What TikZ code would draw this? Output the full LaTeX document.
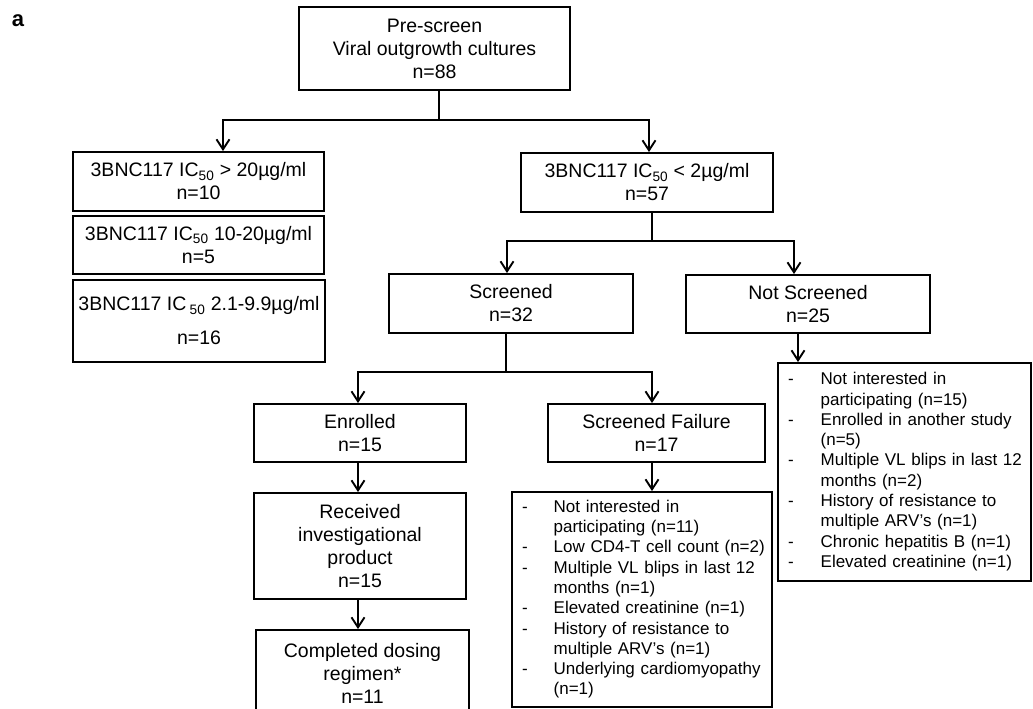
\documentclass[tikz,border=0pt]{standalone}
\usepackage{fontspec}
\setmainfont{Liberation Sans}
\usetikzlibrary{arrows.meta}
\begin{document}
\begin{tikzpicture}[x=1pt,y=-1pt,
  box/.style={draw, line width=1.9pt, inner sep=0pt, align=center,
    font=\fontsize{19.5}{23}\selectfont},
  listbox/.style={draw, line width=1.9pt, inner sep=0pt, align=left,
    font=\fontsize{17}{20.3}\selectfont},
  link/.style={line width=1.9pt},
  arr/.style={line width=1.9pt, -{Straight Barb[length=10pt,width=13pt]}}]
\path[use as bounding box, clip] (0,0) rectangle (1033,709);

% panel label
\node[font=\bfseries\fontsize{22}{26}\selectfont] (lbl) at (18,21) {a};

% top level
\node[box, minimum width=271, minimum height=83] (pre) at (434.5,48.5)
  {Pre-screen\\Viral outgrowth cultures\\n=88};

% left column: excluded by sensitivity
\node[box, minimum width=251, minimum height=59] (L1) at (198.5,181.5)
  {3BNC117 IC\textsubscript{50} > 20µg/ml\\n=10};
\node[box, minimum width=251, minimum height=58] (L2) at (198.5,245)
  {3BNC117 IC\textsubscript{50} 10-20µg/ml\\n=5};
\node[box, minimum width=252, minimum height=82] (L3) at (199,321)
  {3BNC117 IC\,\textsubscript{50} 2.1-9.9µg/ml\\[11pt]n=16};

% sensitive branch
\node[box, minimum width=252, minimum height=59] (R) at (647,182.5)
  {3BNC117 IC\textsubscript{50} < 2µg/ml\\n=57};
\node[box, minimum width=244, minimum height=59] (scr) at (511,303.5)
  {Screened\\n=32};
\node[box, minimum width=244, minimum height=58] (nscr) at (808,304)
  {Not Screened\\n=25};

\node[box, minimum width=212, minimum height=58] (enr) at (360,433)
  {Enrolled\\n=15};
\node[box, minimum width=212, minimum height=106] (rec) at (360,546)
  {Received\\investigational\\product\\n=15};
\node[box, minimum width=213, minimum height=86] (comp) at (362.5,673)
  {Completed dosing\\regimen*\\n=11};

\node[box, minimum width=217, minimum height=58] (sf) at (656.5,433)
  {Screened Failure\\n=17};

% reason lists
\node[listbox, text width=260, minimum height=215] (sfl) at (642,599.5)
  {\begin{tabular}{@{\hspace{10pt}}l@{\hspace{26pt}}l@{}}
   - & Not interested in\\
     & participating (n=11)\\
   - & Low CD4-T cell count (n=2)\\
   - & Multiple VL blips in last 12\\
     & months (n=1)\\
   - & Elevated creatinine (n=1)\\
   - & History of resistance to\\
     & multiple ARV’s (n=1)\\
   - & Underlying cardiomyopathy\\
     & (n=1)
  \end{tabular}};

\node[listbox, text width=253, minimum height=218] (nsl) at (904.5,472)
  {\begin{tabular}{@{\hspace{10pt}}l@{\hspace{27pt}}l@{}}
   - & Not interested in\\
     & participating (n=15)\\
   - & Enrolled in another study\\
     & (n=5)\\
   - & Multiple VL blips in last 12\\
     & months (n=2)\\
   - & History of resistance to\\
     & multiple ARV’s (n=1)\\
   - & Chronic hepatitis B (n=1)\\
   - & Elevated creatinine (n=1)
  \end{tabular}};

% connector positions
\coordinate (j1) at (439,120);
\coordinate (j2) at (652,241);
\coordinate (j3) at (506,372);
\coordinate (xL1) at (223,0);
\coordinate (xR) at (649,0);
\coordinate (xScr) at (507,0);
\coordinate (xNs) at (794,0);
\coordinate (xEnr) at (358,0);
\coordinate (xSf) at (652,0);
\coordinate (xNsl) at (798,0);

% connectors
\draw[link] (pre.south -| j1) -- (j1);
\draw[arr] (j1) -| (L1.north -| xL1);
\draw[arr] (j1) -| (R.north -| xR);

\draw[link] (R.south -| j2) -- (j2);
\draw[arr] (j2) -| (scr.north -| xScr);
\draw[arr] (j2) -| (nscr.north -| xNs);

\draw[link] (scr.south -| j3) -- (j3);
\draw[arr] (j3) -| (enr.north -| xEnr);
\draw[arr] (j3) -| (sf.north -| xSf);

\draw[arr] (enr.south -| xEnr) -- (rec.north -| xEnr);
\draw[arr] (rec.south -| xEnr) -- (comp.north -| xEnr);
\draw[arr] (sf.south -| xSf) -- (sfl.north -| xSf);
\draw[arr] (nscr.south -| xNsl) -- (nsl.north -| xNsl);
\end{tikzpicture}
\end{document}
